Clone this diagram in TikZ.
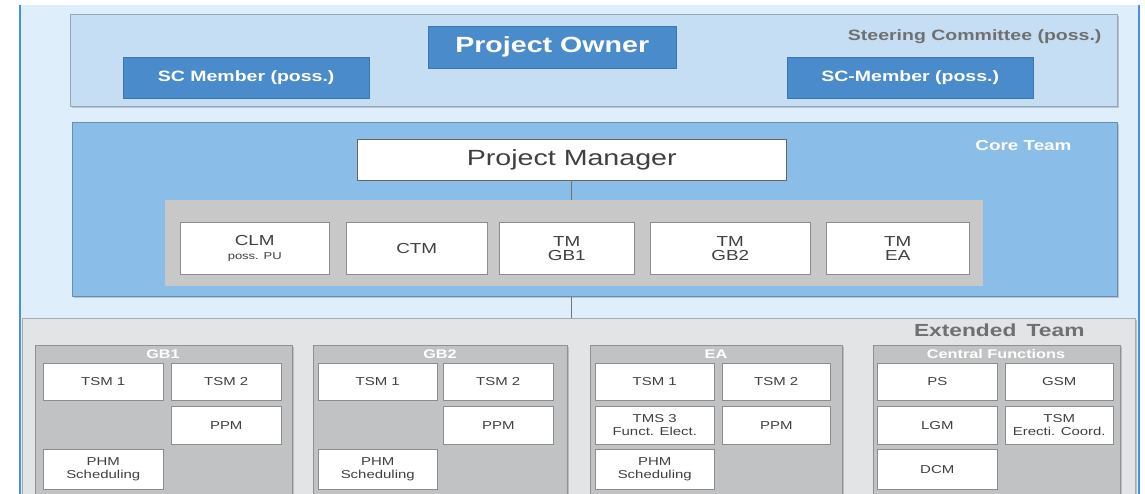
\documentclass[tikz,border=0pt]{standalone}
\usepackage{fontspec}
\setmainfont[FakeStretch=1.3]{Liberation Sans}
\usepackage{xcolor}
\usepackage{tikz}
\usetikzlibrary{positioning, shadows}
\definecolor{OrgBg}{RGB}{222, 238, 251}
\definecolor{OrgFrame}{RGB}{74, 144, 226}
\definecolor{OrgSteer}{RGB}{197, 222, 244}
\definecolor{OrgBlue}{RGB}{74, 139, 203}
\definecolor{OrgCore}{RGB}{138, 189, 232}
\definecolor{OrgGray}{RGB}{200, 200, 200}
\definecolor{OrgExt}{RGB}{226, 228, 229}
\definecolor{OrgSub}{RGB}{192, 194, 196}
\definecolor{OrgText}{RGB}{64, 64, 64}
\definecolor{OrgLabel}{RGB}{112, 112, 112}

\tikzset{
  panel/.style={anchor=north west, inner sep=0pt, fill=#1, draw=#1!75!black, line width=0.5pt,
    drop shadow={shadow xshift=1.5pt, shadow yshift=-1.5pt, opacity=0.3, fill=black!60}},
  bluebox/.style={anchor=north west, inner sep=0pt, fill=OrgBlue, draw=OrgBlue!85!black,
    text=white, font=\bfseries\fontsize{15}{17}\selectfont},
  whitebox/.style={anchor=north west, inner sep=0pt, fill=white, draw=black!45, line width=0.5pt,
    text=OrgText, align=center, font=\fontsize{11.5}{13}\selectfont},
  corebox/.style={whitebox, minimum height=52pt, font=\fontsize{14.5}{14}\selectfont},
  grouphead/.style={text=white, font=\bfseries\fontsize{12.5}{13}\selectfont},
  tagtext/.style={anchor=east, text=OrgLabel, font=\bfseries\fontsize{15}{17}\selectfont},
  orgline/.style={draw=black!55, line width=0.8pt}
}
\newcommand{\subline}[1]{\\{\fontsize{10}{10}\selectfont #1}}

\begin{document}
\begin{tikzpicture}[x=1pt,y=-1pt]
  \clip (0,0) rectangle (1145,494);
  \path[use as bounding box] (0,0) rectangle (1145,494);
  \fill[white] (0,0) rectangle (1145,494);
  \fill[OrgBg] (20,5) rectangle (1139,500);
  \draw[OrgFrame, line width=1.2pt] (20,5) -- (20,494) (1139,5) -- (1139,494);

  % steering committee
  \node[panel=OrgSteer, minimum width=1047pt, minimum height=92pt] (steer) at (70,14) {};
  \node[tagtext] (steerlbl) at (1105,37) {Steering Committee (poss.)};
  \node[bluebox, minimum width=248pt, minimum height=42pt, font=\bfseries\fontsize{22}{24}\selectfont] (po) at (428,26) {Project Owner};
  \node[bluebox, minimum width=246pt, minimum height=41pt] (scone) at (123,57) {SC Member (poss.)};
  \node[bluebox, minimum width=246pt, minimum height=41pt] (sctwo) at (787,57) {SC-Member (poss.)};

  % core team
  \node[panel=OrgCore, minimum width=1045pt, minimum height=174pt] (core) at (72,122) {};
  \node[tagtext, text=white, font=\bfseries\fontsize{14.5}{16}\selectfont] (corelbl) at (1075,146) {Core Team};
  \node[whitebox, minimum width=429pt, minimum height=41pt, draw=black!60, font=\fontsize{22}{24}\selectfont] (pm) at (357,139) {Project Manager};
  \node[anchor=north west, inner sep=0pt, fill=OrgGray, minimum width=818pt, minimum height=86pt] (coregrp) at (165,200) {};
  \draw[orgline] (pm.south) -- (pm.south |- coregrp.north);
  \node[corebox, minimum width=149pt] (clm) at (180,222) {CLM\subline{poss. PU}};
  \node[corebox, minimum width=141pt] (ctm) at (346,222) {CTM};
  \node[corebox, minimum width=135pt] (tmgbone) at (499,222) {TM\\GB1};
  \node[corebox, minimum width=160pt] (tmgbtwo) at (650,222) {TM\\GB2};
  \node[corebox, minimum width=143pt] (tmea) at (826,222) {TM\\EA};

  % extended team
  \node[panel=OrgExt, minimum width=1113pt, minimum height=190pt] (ext) at (22,318) {};
  \draw[orgline] (pm.south |- core.south) -- (pm.south |- ext.north);
  \node[tagtext, font=\bfseries\fontsize{17.5}{19}\selectfont] (extlbl) at (1088,330) {Extended\hspace{4pt} Team};

  \node[panel=OrgSub, minimum width=257pt, minimum height=160pt] (gbone) at (35,345) {};
  \node[panel=OrgSub, minimum width=254pt, minimum height=160pt] (gbtwo) at (313,345) {};
  \node[panel=OrgSub, minimum width=252pt, minimum height=160pt] (ea) at (590,345) {};
  \node[panel=OrgSub, minimum width=247pt, minimum height=160pt] (cf) at (873,345) {};
  \node[grouphead] (gbonehd) at (163,354) {GB1};
  \node[grouphead] (gbtwohd) at (440,354) {GB2};
  \node[grouphead] (eahd) at (716,354) {EA};
  \node[grouphead] (cfhd) at (996,354) {Central Functions};

  % GB1
  \node[whitebox, minimum width=120pt, minimum height=37pt] (gbonetsma) at (43,363) {TSM 1};
  \node[whitebox, minimum width=110pt, minimum height=37pt] (gbonetsmb) at (171,363) {TSM 2};
  \node[whitebox, minimum width=110pt, minimum height=38pt] (gboneppm) at (171,406) {PPM};
  \node[whitebox, minimum width=120pt, minimum height=40pt] (gbonephm) at (43,449) {PHM\\Scheduling};

  % GB2
  \node[whitebox, minimum width=119pt, minimum height=37pt] (gbtwotsma) at (318,363) {TSM 1};
  \node[whitebox, minimum width=110pt, minimum height=37pt] (gbtwotsmb) at (443,363) {TSM 2};
  \node[whitebox, minimum width=110pt, minimum height=38pt] (gbtwoppm) at (443,406) {PPM};
  \node[whitebox, minimum width=119pt, minimum height=40pt] (gbtwophm) at (318,449) {PHM\\Scheduling};

  % EA
  \node[whitebox, minimum width=119pt, minimum height=37pt] (eatsma) at (595,363) {TSM 1};
  \node[whitebox, minimum width=108pt, minimum height=37pt] (eatsmb) at (722,363) {TSM 2};
  \node[whitebox, minimum width=119pt, minimum height=38pt] (eatms) at (595,406) {TMS 3\\Funct. Elect.};
  \node[whitebox, minimum width=108pt, minimum height=38pt] (eappm) at (722,406) {PPM};
  \node[whitebox, minimum width=119pt, minimum height=40pt] (eaphm) at (595,449) {PHM\\Scheduling};

  % central functions
  \node[whitebox, minimum width=120pt, minimum height=37pt] (cfps) at (877,363) {PS};
  \node[whitebox, minimum width=108pt, minimum height=37pt] (cfgsm) at (1005,363) {GSM};
  \node[whitebox, minimum width=120pt, minimum height=38pt] (cflgm) at (877,406) {LGM};
  \node[whitebox, minimum width=108pt, minimum height=38pt] (cftsm) at (1005,406) {TSM\\Erecti. Coord.};
  \node[whitebox, minimum width=120pt, minimum height=40pt] (cfdcm) at (877,449) {DCM};
\end{tikzpicture}
\end{document}
